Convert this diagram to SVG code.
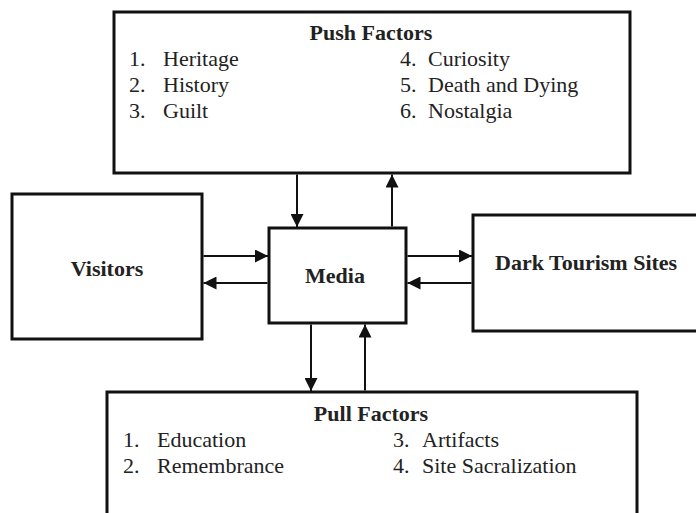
<svg xmlns="http://www.w3.org/2000/svg" width="696" height="513" viewBox="0 0 696 513">
<defs>
<style>
.box{fill:#fff;stroke:#111;stroke-width:3}
.t{font-family:'Liberation Serif','Times New Roman','DejaVu Serif',serif;font-size:22px;fill:#222}
.b{font-family:'Liberation Serif','Times New Roman','DejaVu Serif',serif;font-size:22px;font-weight:bold;fill:#222}
.c{stroke:#111;stroke-width:2;fill:none;marker-end:url(#ah)}
</style>
<marker id="ah" markerUnits="userSpaceOnUse" markerWidth="14" markerHeight="13" refX="13" refY="6.5" orient="auto">
<path d="M0,0 L13,6.5 L0,13 z" fill="#111"/>
</marker>
</defs>
<rect width="696" height="513" fill="#fff"/>
<g id="push">
<rect class="box" x="114" y="12" width="516" height="161"/>
<text class="b" x="371" y="40" text-anchor="middle">Push Factors</text>
<text class="t" x="129" y="66">1.</text><text class="t" x="163" y="66">Heritage</text>
<text class="t" x="129" y="92">2.</text><text class="t" x="163" y="92">History</text>
<text class="t" x="129" y="118">3.</text><text class="t" x="163" y="118">Guilt</text>
<text class="t" x="400" y="66">4.</text><text class="t" x="428" y="66">Curiosity</text>
<text class="t" x="400" y="92">5.</text><text class="t" x="428" y="92">Death and Dying</text>
<text class="t" x="400" y="118">6.</text><text class="t" x="428" y="118">Nostalgia</text>
</g>
<g id="visitors">
<rect class="box" x="12" y="194" width="190" height="145"/>
<text class="b" x="107" y="276" text-anchor="middle">Visitors</text>
</g>
<g id="media">
<rect class="box" x="269" y="228" width="137" height="95"/>
<text class="b" x="335" y="283" text-anchor="middle">Media</text>
</g>
<g id="sites">
<rect class="box" x="473" y="215" width="240" height="116"/>
<text class="b" x="495" y="270">Dark Tourism Sites</text>
</g>
<g id="pull">
<rect class="box" x="107" y="392" width="530" height="140"/>
<text class="b" x="371" y="421" text-anchor="middle">Pull Factors</text>
<text class="t" x="123" y="447">1.</text><text class="t" x="157" y="447">Education</text>
<text class="t" x="123" y="473">2.</text><text class="t" x="157" y="473">Remembrance</text>
<text class="t" x="393" y="447">3.</text><text class="t" x="422" y="447">Artifacts</text>
<text class="t" x="393" y="473">4.</text><text class="t" x="422" y="473">Site Sacralization</text>
</g>
<g id="connectors">
<line class="c" x1="297" y1="174.5" x2="297" y2="227"/>
<line class="c" x1="392" y1="226.5" x2="392" y2="174.5"/>
<line class="c" x1="203.5" y1="256" x2="268" y2="256"/>
<line class="c" x1="267.5" y1="283" x2="203.5" y2="283"/>
<line class="c" x1="407.5" y1="256" x2="472" y2="256"/>
<line class="c" x1="471.5" y1="283" x2="407.5" y2="283"/>
<line class="c" x1="311" y1="324.5" x2="311" y2="391"/>
<line class="c" x1="365" y1="390.5" x2="365" y2="324.5"/>
</g>
</svg>
